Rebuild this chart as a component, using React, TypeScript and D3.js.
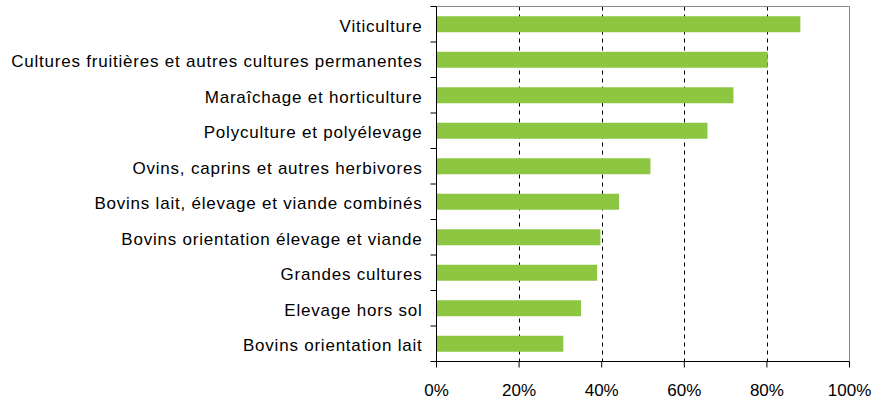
import * as d3 from 'd3';
import React from 'react';

const categories = [
  'Viticulture',
  'Cultures fruitières et autres cultures permanentes',
  'Maraîchage et horticulture',
  'Polyculture et polyélevage',
  'Ovins, caprins et autres herbivores',
  'Bovins lait, élevage et viande combinés',
  'Bovins orientation élevage et viande',
  'Grandes cultures',
  'Elevage hors sol',
  'Bovins orientation lait',
];
const values = [88.1, 80.2, 71.9, 65.6, 51.8, 44.2, 39.7, 38.9, 35.0, 30.7];
const xTicks = [0, 20, 40, 60, 80, 100];

const W = 885;
const H = 400;
const left = 436.5;
const right = 849.5;
const top = 6.5;
const bottom = 361.5;
const font = 'Arial, "Liberation Sans", sans-serif';

export default function App() {
  const x = d3.scaleLinear().domain([0, 100]).range([left, right]);
  const y = d3.scaleBand<string>()
    .domain(categories)
    .range([top, bottom])
    .paddingInner(0.55)
    .paddingOuter(0.275);
  const step = y.step();
  const bounds = d3.range(categories.length + 1).map(i => top + i * step);

  return (
    <svg width={W} height={H} style={{ position: 'absolute', left: 0, top: 0 }} fontFamily={font}>
      {/* grid */}
      {xTicks.slice(1, -1).map(t => (
        <line key={t} x1={Math.round(x(t)) + 0.5} x2={Math.round(x(t)) + 0.5} y1={top} y2={bottom}
          stroke="#000" strokeDasharray="4,4" />
      ))}
      {/* frame top / right */}
      <line x1={left} x2={right} y1={top} y2={top} stroke="#888" />
      <line x1={right} x2={right} y1={top} y2={bottom} stroke="#888" />

      {categories.map((c, i) => (
        <rect key={c} x={x(0)} y={y(c)} width={x(values[i]) - x(0)} height={y.bandwidth()} fill="#8DC641" />
      ))}

      {/* y axis */}
      <line x1={left} x2={left} y1={top} y2={bottom} stroke="#000" />
      {bounds.map((b, i) => (
        <line key={i} x1={left - 6} x2={left} y1={b} y2={b} stroke="#000" />
      ))}
      {categories.map(c => (
        <text key={c} x={left - 14} y={(y(c) ?? 0) + y.bandwidth() / 2 + 7.5} textAnchor="end"
          fontSize={17} letterSpacing={0.78} fill="#000">{c}</text>
      ))}

      {/* x axis */}
      <line x1={left} x2={right} y1={bottom} y2={bottom} stroke="#000" />
      {xTicks.map(t => (
        <g key={t}>
          <line x1={x(t)} x2={x(t)} y1={bottom} y2={bottom + 6} stroke="#000" />
          <text x={x(t)} y={396} textAnchor="middle" fontSize={17} fill="#000">{t}%</text>
        </g>
      ))}
    </svg>
  );
}
